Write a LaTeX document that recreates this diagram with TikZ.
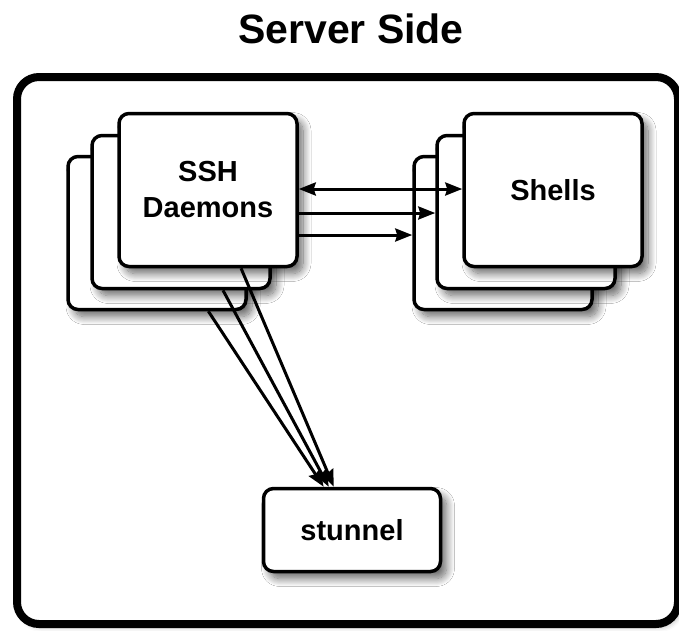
\documentclass[tikz,border=0pt]{standalone}
\usepackage{fontspec}
\setmainfont{Liberation Sans}
\usetikzlibrary{arrows.meta,shadows.blur}

\begin{document}
\begin{tikzpicture}[x=1pt,y=-1pt,
  >={Stealth[length=17pt,width=13pt,inset=2pt]},
  softshadow/.style={blur shadow={shadow xshift=6pt,shadow yshift=-7pt,
      shadow blur radius=8pt,shadow blur steps=14,shadow opacity=60}},
  card/.style={draw=black,line width=3.5pt,fill=white,rounded corners=10pt,
      minimum width=178pt,minimum height=153pt,inner sep=0pt,align=center,
      font=\fontsize{29}{36}\selectfont\bfseries,softshadow},
  link/.style={line width=3pt,->},
]
\useasboundingbox (0,0) rectangle (679,630);

% enclosing frame and its title
\node[draw=black,line width=8pt,fill=white,rounded corners=22pt,
      minimum width=661pt,minimum height=547pt,inner sep=0pt,
      blur shadow={shadow xshift=3pt,shadow yshift=-3pt,shadow blur radius=5pt,shadow opacity=30}]
      (frame) at (347.5,350.5) {};
\node[font=\fontsize{41}{48}\selectfont\bfseries,anchor=base] (title) at (351,43) {Server Side};

% stack of SSH daemons, back to front
\node[card] (sshC) at (157,233) {};
\node[card] (sshB) at (181,212) {};
\node[card] (sshA) at (208,190) {SSH\\Daemons};

% stack of shells, back to front
\node[card] (shC) at (503,233) {};
\node[card] (shB) at (526,212) {};
\node[card] (shA) at (553,190) {Shells};

% stunnel
\node[card,minimum width=177pt,minimum height=83pt] (stun) at (352,530) {stunnel};

% daemon <-> shell traffic
\draw[link,<->] (sshA.east |- 0,189) -- (shA.west |- 0,189);
\draw[link] (sshA.east |- 0,213) -- (shB.west |- 0,213);
\draw[link] (sshA.east |- 0,235) -- (shC.west |- 0,235);

% each daemon talks to stunnel
\draw[link] (sshA) -- (stun);
\draw[link] (sshB) -- (stun);
\draw[link] (sshC) -- (stun);
\end{tikzpicture}
\end{document}
